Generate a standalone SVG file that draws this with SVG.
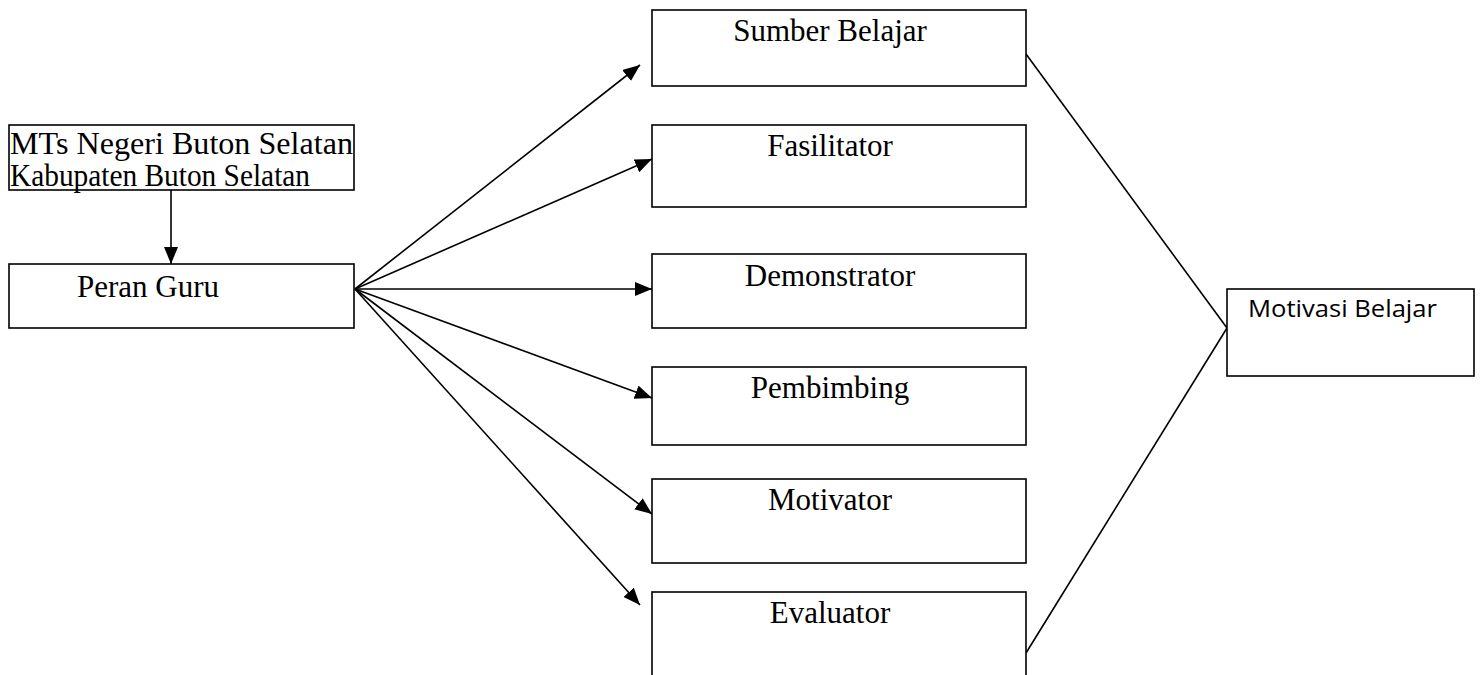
<svg xmlns="http://www.w3.org/2000/svg" width="1482" height="675" viewBox="0 0 1482 675">
<style>
.box{fill:#fff;stroke:#000;stroke-width:1.6}
.t{font-family:"Liberation Serif","Times New Roman",serif;font-size:31px;fill:#000}
.tc{text-anchor:middle}
.s{font-family:"Open Sans","Noto Sans","Liberation Sans",sans-serif;font-size:24px;fill:#000}
.c{stroke:#000;stroke-width:1.6;fill:none}
</style>
<defs>
<marker id="ah" markerUnits="userSpaceOnUse" markerWidth="18" markerHeight="14" refX="17" refY="7" orient="auto">
<path d="M0,0 L17,7 L0,14 Z" fill="#000"/>
</marker>
</defs>
<rect width="1482" height="675" fill="#fff"/>
<g id="connectors">
<line class="c" x1="171" y1="190" x2="171" y2="264" marker-end="url(#ah)"/>
<line class="c" x1="355" y1="289" x2="640" y2="65" marker-end="url(#ah)"/>
<line class="c" x1="355" y1="289" x2="652" y2="159" marker-end="url(#ah)"/>
<line class="c" x1="355" y1="289" x2="652" y2="289" marker-end="url(#ah)"/>
<line class="c" x1="355" y1="289" x2="652" y2="398" marker-end="url(#ah)"/>
<line class="c" x1="355" y1="289" x2="652" y2="514" marker-end="url(#ah)"/>
<line class="c" x1="355" y1="289" x2="640" y2="605" marker-end="url(#ah)"/>
<line class="c" x1="1026" y1="54" x2="1227" y2="328"/>
<line class="c" x1="1026" y1="653" x2="1227" y2="328"/>
</g>
<g id="node-mts">
<rect class="box" x="9" y="125" width="345" height="65"/>
<text class="t" x="10" y="154" font-size="26" textLength="343" lengthAdjust="spacingAndGlyphs">MTs Negeri Buton Selatan</text>
<text class="t" x="10" y="186" font-size="26" textLength="300" lengthAdjust="spacingAndGlyphs">Kabupaten Buton Selatan</text>
</g>
<g id="node-peran">
<rect class="box" x="9" y="264" width="345" height="64"/>
<text class="t" x="77" y="297">Peran Guru</text>
</g>
<g id="node-sumber">
<rect class="box" x="652" y="10" width="374" height="76"/>
<text class="t tc" x="830" y="41">Sumber Belajar</text>
</g>
<g id="node-fasilitator">
<rect class="box" x="652" y="125" width="374" height="82"/>
<text class="t tc" x="830" y="156">Fasilitator</text>
</g>
<g id="node-demonstrator">
<rect class="box" x="652" y="254" width="374" height="74"/>
<text class="t tc" x="830" y="286">Demonstrator</text>
</g>
<g id="node-pembimbing">
<rect class="box" x="652" y="367" width="374" height="78"/>
<text class="t tc" x="830" y="398">Pembimbing</text>
</g>
<g id="node-motivator">
<rect class="box" x="652" y="479" width="374" height="84"/>
<text class="t tc" x="830" y="510">Motivator</text>
</g>
<g id="node-evaluator">
<rect class="box" x="652" y="592" width="374" height="100"/>
<text class="t tc" x="830" y="623">Evaluator</text>
</g>
<g id="node-motivasi">
<rect class="box" x="1227" y="289" width="247" height="87"/>
<text class="s" x="1248" y="317" textLength="189" lengthAdjust="spacingAndGlyphs">Motivasi Belajar</text>
</g>
</svg>
